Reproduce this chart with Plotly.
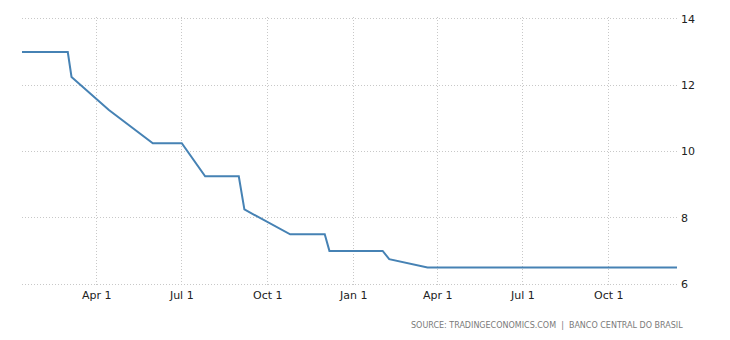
import plotly.graph_objects as go

dates = ["2017-01-11", "2017-03-01", "2017-03-05", "2017-04-14", "2017-05-31",
         "2017-07-01", "2017-07-26", "2017-08-31", "2017-09-06", "2017-10-25",
         "2017-12-01", "2017-12-06", "2018-02-01", "2018-02-08", "2018-03-21",
         "2018-12-13"]
rates = [13.0, 13.0, 12.25, 11.25, 10.25,
         10.25, 9.25, 9.25, 8.25, 7.5,
         7.5, 7.0, 7.0, 6.75, 6.5,
         6.5]

x_tick_vals = ["2017-04-01", "2017-07-01", "2017-10-01", "2018-01-01",
               "2018-04-01", "2018-07-01", "2018-10-01"]
x_tick_text = ["Apr 1", "Jul 1", "Oct 1", "Jan 1", "Apr 1", "Jul 1", "Oct 1"]
y_tick_vals = [6, 8, 10, 12, 14]

source_text = "SOURCE: TRADINGECONOMICS.COM  |  BANCO CENTRAL DO BRASIL"

fig = go.Figure()
fig.add_trace(go.Scatter(
    x=dates, y=rates, mode="lines",
    line=dict(color="#4682B4", width=2),
    hoverinfo="x+y", showlegend=False,
))

grid = "#c8c8c8"
fig.update_layout(
    width=730, height=340,
    margin=dict(l=22, r=53, t=17, b=54),
    plot_bgcolor="white", paper_bgcolor="white",
    font=dict(family="DejaVu Sans", size=11, color="#222"),
    xaxis=dict(
        range=[dates[0], dates[-1]],
        tickvals=x_tick_vals, ticktext=x_tick_text,
        showgrid=True, gridcolor=grid, griddash="1px,2px", gridwidth=1,
        ticks="", showline=False, zeroline=False,
        ticklabelstandoff=1,
        tickfont=dict(size=11, color="#222"),
    ),
    yaxis=dict(
        range=[5.94, 14.06], side="right",
        tickvals=y_tick_vals,
        showgrid=True, gridcolor=grid, griddash="1px,2px", gridwidth=1,
        showline=False, zeroline=False, ticks="",
        ticklabelstandoff=3,
        tickfont=dict(size=11, color="#222"),
    ),
    annotations=[dict(
        text=source_text, xref="paper", yref="paper",
        x=1.012, y=-0.145, xanchor="right", yanchor="middle",
        showarrow=False,
        font=dict(family="DejaVu Sans", size=8, color="#7a7a7a"),
    )],
)

fig.write_html("out.html")
